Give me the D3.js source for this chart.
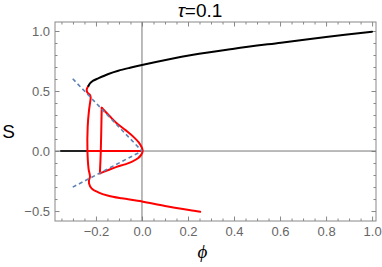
<!DOCTYPE html>
<html>
<head>
<meta charset="utf-8">
<script src="https://cdn.jsdelivr.net/npm/d3@7"></script>
<style>
  body { margin: 0; background: #fff; }
  svg { display: block; }
  .tick text { font-family: "Liberation Sans", Arial, sans-serif; font-size: 13px; fill: #666; }
  .tick line { stroke: #888; }
  .domain { display: none; }
</style>
</head>
<body>
<div id="chart"></div>
<script>
// tick values (major ones get labels)
const xMajor = [-0.2, 0, 0.2, 0.4, 0.6, 0.8, 1.0];
const xMinor = [-0.35, -0.3, -0.25, -0.15, -0.1, -0.05, 0.05, 0.1, 0.15, 0.25, 0.3, 0.35,
                0.45, 0.5, 0.55, 0.65, 0.7, 0.75, 0.85, 0.9, 0.95];
const yMajor = [-0.5, 0, 0.5, 1.0];
const yMinor = [-0.4, -0.3, -0.2, -0.1, 0.1, 0.2, 0.3, 0.4, 0.6, 0.7, 0.8, 0.9];

// curves, [phi, S]
const blackBranch = [[-0.233, 0.542], [-0.226, 0.564], [-0.212, 0.586], [-0.19, 0.606],
  [-0.146, 0.642], [-0.103, 0.669], [-0.052, 0.694], [0, 0.717], [0.216, 0.8], [0.4, 0.853],
  [0.604, 0.903], [0.8, 0.95], [1.0, 0.994]];
const blackFlat = [[-0.352, 0], [-0.237, 0]];
const redOuter = [[-0.233, 0.542], [-0.24, 0.514], [-0.238, 0.489], [-0.226, 0.467], [-0.223, 0.447],
  [-0.226, 0.397], [-0.23, 0.342], [-0.236, 0.2], [-0.237, 0.0], [-0.232, -0.15], [-0.226, -0.214],
  [-0.23, -0.242], [-0.23, -0.27], [-0.219, -0.311], [-0.19, -0.344], [-0.146, -0.372],
  [-0.088, -0.394], [0, -0.42], [0.1, -0.458], [0.216, -0.495], [0.253, -0.506]];
const redFlat = [[-0.237, 0], [0, 0]];
const redStem = [[-0.183, -0.186], [-0.179, 0.0], [-0.175, 0.361]];
const redArc = [[-0.175, 0.361], [-0.14, 0.29], [-0.11, 0.232], [-0.07, 0.172], [-0.038, 0.12],
  [-0.014, 0.072], [-0.001, 0.03], [0.003, 0.0], [-0.003, -0.03], [-0.016, -0.058],
  [-0.045, -0.09], [-0.074, -0.111], [-0.11, -0.132], [-0.146, -0.158], [-0.183, -0.186]];
const dashUpper = [[-0.301, 0.602], [0, 0]];
const dashLower = [[-0.301, -0.301], [0, 0]];

const width = 382, height = 267;
const m = { left: 55, right: 376, top: 22, bottom: 221 };

const svg = d3.select("#chart").append("svg")
    .attr("width", width)
    .attr("height", height);

const x = d3.scaleLinear().domain([-0.378, 1.017]).range([m.left, m.right]);
const y = d3.scaleLinear().domain([-0.583, 1.075]).range([m.bottom, m.top]);

const fmt = d3.format(".1f");

// frame ticks, all pointing inward
function ticks(axis, vals, size, labels, tr) {
    return svg.append("g").attr("transform", tr)
        .call(axis.tickValues(vals).tickSize(-size).tickPadding(labels ? 6 : 0)
            .tickFormat(labels ? fmt : ""));
}
ticks(d3.axisBottom(x), xMinor, 2.5, false, `translate(0,${m.bottom})`);
ticks(d3.axisBottom(x), xMajor, 4.5, true, `translate(0,${m.bottom})`);
ticks(d3.axisTop(x), xMinor, 2.5, false, `translate(0,${m.top})`);
ticks(d3.axisTop(x), xMajor, 4.5, false, `translate(0,${m.top})`);
ticks(d3.axisLeft(y), yMinor, 2.5, false, `translate(${m.left},0)`);
ticks(d3.axisLeft(y), yMajor, 4.5, true, `translate(${m.left},0)`)
    .selectAll("text").attr("x", -5);
ticks(d3.axisRight(y), yMinor, 2.5, false, `translate(${m.right},0)`);
ticks(d3.axisRight(y), yMajor, 4.5, false, `translate(${m.right},0)`);

// axes through the origin
svg.append("line")
    .attr("x1", m.left).attr("x2", m.right)
    .attr("y1", y(0)).attr("y2", y(0))
    .attr("stroke", "#777").attr("stroke-width", 1);
svg.append("line")
    .attr("x1", x(0)).attr("x2", x(0))
    .attr("y1", m.top).attr("y2", m.bottom)
    .attr("stroke", "#777").attr("stroke-width", 1);

svg.append("rect")
    .attr("x", m.left).attr("y", m.top)
    .attr("width", m.right - m.left).attr("height", m.bottom - m.top)
    .attr("fill", "none").attr("stroke", "#888").attr("stroke-width", 1);

const smooth = d3.line().x(d => x(d[0])).y(d => y(d[1])).curve(d3.curveCatmullRom.alpha(0.5));
const straight = d3.line().x(d => x(d[0])).y(d => y(d[1]));

const plot = svg.append("g")
    .attr("fill", "none")
    .attr("stroke-linejoin", "round")
    .attr("stroke-linecap", "round");

plot.append("path").attr("d", straight(blackFlat)).attr("stroke", "#222").attr("stroke-width", 2);
plot.append("path").attr("d", straight(redFlat)).attr("stroke", "#f00").attr("stroke-width", 2);
plot.append("path").attr("d", smooth(redOuter)).attr("stroke", "#f00").attr("stroke-width", 2);
plot.append("path").attr("d", smooth(redStem)).attr("stroke", "#f00").attr("stroke-width", 2);
plot.append("path").attr("d", smooth(redArc)).attr("stroke", "#f00").attr("stroke-width", 2);
plot.append("path").attr("d", smooth(blackBranch)).attr("stroke", "#000").attr("stroke-width", 2);

[dashUpper, dashLower].forEach(d => {
    plot.append("path").attr("d", straight(d))
        .attr("stroke", "#5e81b5").attr("stroke-width", 1.6)
        .attr("stroke-linecap", "butt")
        .attr("stroke-dasharray", "4,3");
});

// labels
const title = svg.append("text")
    .attr("x", 200).attr("y", 17)
    .attr("text-anchor", "middle")
    .attr("font-family", "Liberation Sans, Arial, sans-serif")
    .attr("font-size", 19);
title.append("tspan").attr("font-style", "italic").text("τ");
title.append("tspan").text("=0.1");

svg.append("text")
    .attr("x", 8.5).attr("y", 138)
    .attr("text-anchor", "middle")
    .attr("font-family", "Liberation Sans, Arial, sans-serif")
    .attr("font-size", 19)
    .text("S");

svg.append("text")
    .attr("x", 202.5).attr("y", 258)
    .attr("text-anchor", "middle")
    .attr("font-family", "Liberation Serif, Times New Roman, serif")
    .attr("font-style", "italic")
    .attr("font-size", 19)
    .text("ϕ");
</script>
</body>
</html>
